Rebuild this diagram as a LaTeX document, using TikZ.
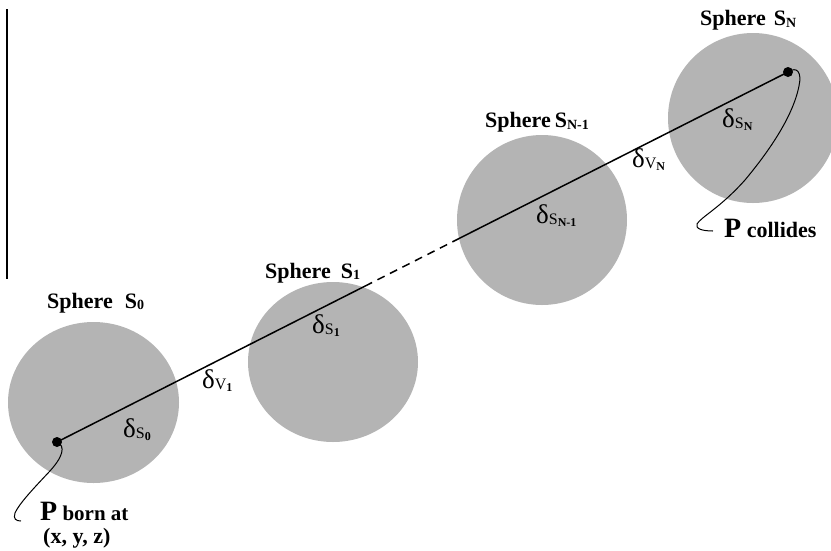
\documentclass[tikz,border=0pt]{standalone}
\usepackage{fontspec}
\setmainfont{Liberation Serif}
\usetikzlibrary{shapes.geometric,calc}
\definecolor{sphgray}{RGB}{180,180,180}
\newcommand{\dlab}[2]{{\fontsize{27}{27}\selectfont δ}\raisebox{-1pt}{\fontsize{16}{16}\selectfont #1\raisebox{-2pt}{\fontsize{12}{12}\selectfont\bfseries #2}}}
\newcommand{\sphlab}[3]{\bfseries Sphere\hspace{#1}S\raisebox{-#3}{\fontsize{14}{14}\selectfont #2}}
\begin{document}
\begin{tikzpicture}[x=1pt,y=-1pt,
  sph/.style={ellipse,fill=sphgray,draw=none,inner sep=0pt},
  dotnode/.style={circle,fill=black,inner sep=0pt,minimum size=10pt},
  lbl/.style={anchor=base west,inner sep=0pt,font=\fontsize{22}{22}\selectfont},
  dlbl/.style={anchor=base west,inner sep=0pt},
  mainline/.style={line width=1.5pt},
  hook/.style={line width=1pt}]
\useasboundingbox (0,0) rectangle (831,550);
% left vertical rule
\coordinate (vt) at (7,9);
\coordinate (vb) at (7,279);
\draw[line width=1.5pt] (vt) -- (vb);
% spheres
\node[sph,minimum width=171pt,minimum height=161pt] (s0) at (93.5,402.5) {};
\node[sph,minimum width=170pt,minimum height=160pt] (s1) at (333,362) {};
\node[sph,minimum width=170pt,minimum height=170pt] (sn1) at (542,220) {};
\node[sph,minimum width=170pt,minimum height=170pt] (sn) at (753,118) {};
% particle dots
\node[dotnode] (p0) at (57,442) {};
\node[dotnode] (pn) at (788,72) {};
\coordinate (da) at ($(p0)!0.4213!(pn)$);
\coordinate (db) at ($(p0)!0.5472!(pn)$);
\draw[mainline] (p0.center) -- (da);
\draw[mainline,dash pattern=on 8pt off 6pt] (da) -- (db);
\draw[mainline] (db) -- (pn.center);
% hooks to labels
\coordinate (h0) at (21,521);
\coordinate (hn) at (713,231);
\draw[hook] (p0.center) .. controls (66,446) and (63,457) .. (49,472)
  .. controls (32,490) and (19,504) .. (15,513)
  .. controls (13,519) and (16,521) .. (h0);
\draw[hook] (pn.center) .. controls (797,66) and (802,72) .. (799,86)
  .. controls (793,116) and (770,150) .. (745,180)
  .. controls (720,208) and (701,217) .. (697,224)
  .. controls (695,229) and (703,231) .. (hn);
% sphere labels
\node[lbl] (l0) at (47,308) {\sphlab{12pt}{0}{1pt}};
\node[lbl] (l1) at (265,278) {\sphlab{10pt}{1}{1pt}};
\node[lbl] (ln1) at (485,127) {\sphlab{4pt}{N-1}{2pt}};
\node[lbl] (ln) at (700,25) {\sphlab{8pt}{N}{2pt}};
% delta labels
\node[dlbl] (d0) at (123,437) {\dlab{S}{0}};
\node[dlbl] (dv1) at (202,388) {\dlab{V}{1}};
\node[dlbl] (d1) at (312,333) {\dlab{S}{1}};
\node[dlbl] (dn1) at (536,223) {\dlab{S}{N-1}};
\node[dlbl] (dvn) at (632,167) {\dlab{V}{N}};
\node[dlbl] (dn) at (722,127) {\dlab{S}{N}};
% P labels
\node[anchor=base west,inner sep=0pt] (pb) at (40,520) {\bfseries\fontsize{28}{28}\selectfont P\fontsize{21}{21}\selectfont\ born at};
\node[anchor=base west,inner sep=0pt] (pxyz) at (43,543) {\bfseries\fontsize{22}{22}\selectfont (x, y, z)};
\node[anchor=base west,inner sep=0pt] (pc) at (724,237) {\bfseries\fontsize{28}{28}\selectfont P\fontsize{22}{22}\selectfont\ collides};
\end{tikzpicture}
\end{document}
